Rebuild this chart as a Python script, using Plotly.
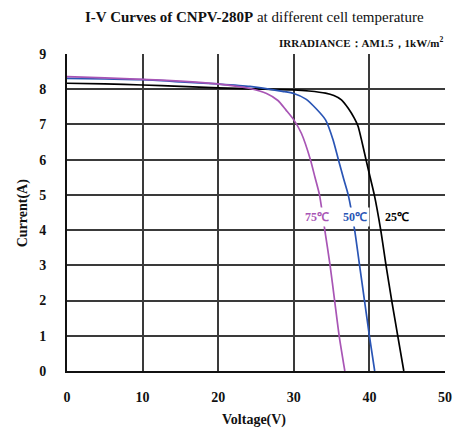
import plotly.graph_objects as go

# 25 °C
v25 = [0, 5, 10, 15, 20, 25, 30, 32, 34.2, 35.3, 36.3, 37.2, 38.0, 38.5, 39.0, 39.55, 40.1, 40.65, 41.5, 42.2, 42.95, 43.75, 44.55]
i25 = [8.17, 8.15, 8.12, 8.08, 8.04, 8.01, 7.98, 7.95, 7.89, 7.82, 7.7, 7.46, 7.18, 6.95, 6.52, 6.0, 5.5, 5.0, 4.0, 3.0, 2.0, 1.0, 0.0]
# 50 °C
v50 = [0, 5, 10, 15, 19.9, 24.2, 28.5, 30, 31.6, 32.9, 34.2, 35.2, 35.9, 36.6, 37.2, 38.05, 38.7, 39.35, 40.0, 40.7]
i50 = [8.31, 8.29, 8.27, 8.21, 8.15, 8.08, 7.94, 7.88, 7.72, 7.46, 7.13, 6.56, 6.0, 5.45, 5.0, 4.0, 3.0, 2.0, 1.0, 0.0]
# 75 °C
v75 = [0, 5, 10, 15, 19.9, 24.2, 26.4, 27.9, 29, 30, 31, 32.2, 32.8, 33.4, 34.1, 34.8, 35.4, 36.0, 36.75]
i75 = [8.36, 8.32, 8.28, 8.23, 8.15, 8.02, 7.88, 7.68, 7.4, 7.13, 6.75, 6.0, 5.5, 5.0, 4.0, 3.0, 2.0, 1.0, 0.0]

x_ticks = [0, 10, 20, 30, 40, 50]
y_ticks = [0, 1, 2, 3, 4, 5, 6, 7, 8, 9]

labels = ["75℃", "50℃", "25℃"]
label_v = [33.05, 38.05, 43.6]
label_i = [4.38, 4.38, 4.38]
colors = ["#a855b5", "#2a55b5", "#000000"]

FONT = "Liberation Serif"

fig = go.Figure()
for v, i, c in [(v25, i25, colors[2]), (v50, i50, colors[1]), (v75, i75, colors[0])]:
    fig.add_trace(go.Scatter(x=v, y=i, mode="lines", line=dict(color=c, width=1.7, shape="spline", smoothing=0.6),
                             showlegend=False, hoverinfo="skip"))

for t, vx, iy, c in zip(labels, label_v, label_i, colors):
    fig.add_annotation(x=vx, y=iy, text="<b>" + t + "</b>", showarrow=False,
                       font=dict(family=FONT, size=12, color=c), bgcolor="white", borderpad=2)

fig.add_annotation(xref="paper", yref="paper", x=0.496, y=1.117, text="<b>I-V Curves of CNPV-280P</b> at different cell temperature",
                   showarrow=False, font=dict(family=FONT, size=15, color="#111"), xanchor="center", yanchor="middle")
fig.add_annotation(xref="paper", yref="paper", x=1.0, y=1.037, text="<b>IRRADIANCE：AM1.5，1kW/m<sup>2</sup></b>",
                   showarrow=False, font=dict(family=FONT, size=11, color="#111"), xanchor="right", yanchor="middle")
fig.add_annotation(xref="paper", yref="paper", x=-0.117, y=0.5, text="<b>Current(A)</b>", textangle=-90,
                   showarrow=False, font=dict(family=FONT, size=14, color="#111"), xanchor="center", yanchor="middle")
fig.add_annotation(xref="paper", yref="paper", x=0.496, y=-0.155, text="<b>Voltage(V)</b>",
                   showarrow=False, font=dict(family=FONT, size=14, color="#111"), xanchor="center", yanchor="middle")

fig.update_layout(
    width=462, height=439,
    margin=dict(l=67, r=10, t=54, b=68),
    paper_bgcolor="white", plot_bgcolor="white",
    xaxis=dict(range=[0, 50], tickvals=x_ticks, ticktext=["<b>%d</b>" % t for t in x_ticks],
               showgrid=True, gridcolor="#3a3a3a", gridwidth=1.6, zeroline=False,
               showline=True, linecolor="#111", linewidth=2, mirror=False,
               ticks="", ticklabelstandoff=12,
               tickfont=dict(family=FONT, size=14, color="#111")),
    yaxis=dict(range=[0, 9], tickvals=y_ticks, ticktext=["<b>%d</b>" % t for t in y_ticks],
               showgrid=True, gridcolor="#3a3a3a", gridwidth=1.6, zeroline=False,
               showline=True, linecolor="#111", linewidth=2, mirror=False,
               ticks="", ticklabelstandoff=16,
               tickfont=dict(family=FONT, size=14, color="#111")),
)

# remove the default page margin so the 462x439 figure fills the window exactly
fig.write_html("out.html", config={"displayModeBar": False},
               post_script="document.body.style.margin='0';document.body.style.overflow='hidden';")
